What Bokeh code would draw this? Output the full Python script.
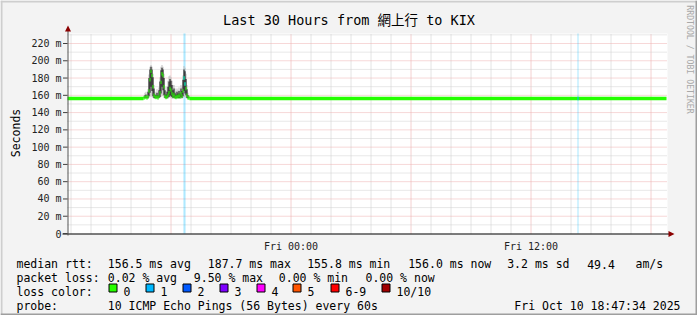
from math import ceil, floor, pi
from bokeh.plotting import figure
from bokeh.models import Range1d
from bokeh.core.properties import value
from bokeh.embed import file_html
from bokeh.resources import INLINE

# ---------------- data ----------------
# time axis: hours relative to Fri 00:00
window_start = -11.175
window_end = 18.825
data_end = 18.775
sample_h = 0.05            # 3-minute consolidated samples

baseline_rtt = 156.2       # ms, flat median outside the busy period
median_halfwidth = 2.0     # ms, half thickness of the median band

spike_start = -7.375       # Thu 16:37:30
spike_median = [157, 157.5, 158, 157, 158, 165, 178, 187.7, 183, 170,
                160, 158, 157.5, 158, 157, 159, 163, 175, 185, 183,
                170, 159, 157.5, 158, 160, 163, 168, 166, 162, 159,
                161, 158, 157.5, 159, 158, 160, 158, 162, 159, 165,
                180, 173, 168, 160, 157, 157]
spike_dark_lo = [156.5, 157, 157, 156.5, 157, 159, 163, 170, 165, 159,
                 157, 157, 156.5, 157, 156.5, 157, 158, 162, 170, 166,
                 160, 157, 156.5, 157, 157.5, 158, 160, 159, 158, 157,
                 157.5, 157, 156.5, 157, 157, 157, 157, 158, 157, 159,
                 165, 162, 160, 157, 156.5, 156.5]
spike_dark_hi = [158, 160, 161, 158, 164, 180, 190, 193, 190, 181,
                 168, 161, 160, 163, 160, 166, 176, 189, 192, 190,
                 180, 166, 161, 164, 170, 176, 179, 177, 172, 166,
                 168, 163, 161, 164, 162, 165, 162, 168, 165, 178,
                 190, 188, 179, 167, 160, 158]
spike_light_lo = [156, 156, 156, 156, 156, 157, 158, 160, 158, 157,
                  156, 156, 156, 156, 156, 156, 157, 158, 160, 159,
                  157, 156, 156, 156, 156, 157, 158, 157, 156, 156,
                  156, 156, 156, 156, 156, 156, 156, 156, 156, 157,
                  158, 158, 157, 156, 156, 156]
spike_light_hi = [160, 163, 164, 160, 167, 184, 193, 195, 193, 185,
                  172, 164, 163, 167, 163, 169, 181, 193, 195, 193,
                  185, 170, 165, 170, 177, 182, 183, 181, 177, 172,
                  172, 168, 165, 168, 166, 169, 166, 172, 170, 183,
                  194, 192, 185, 172, 163, 160]

loss_t = [-5.375, -5.325, 14.325]      # sample start times with packet loss
loss_n = [1, 1, 1]                      # pings lost out of 10

loss_labels = ["0", "1", "2", "3", "4", "5", "6-9", "10/10"]
loss_colors = ["#26ff00", "#00b8ff", "#0059ff", "#7e00ff", "#ff00ff",
               "#ff5500", "#ff0000", "#a10000"]

y_ticks = [0, 20, 40, 60, 80, 100, 120, 140, 160, 180, 200, 220]
y_tick_labels = ["0"] + [f"{v} m" for v in y_ticks[1:]]
x_ticks = [0, 12]
x_tick_labels = ["Fri 00:00", "Fri 12:00"]

title = "Last 30 Hours from 網上行 to KIX"
median_stats = ["156.5 ms avg", "187.7 ms max", "155.8 ms min",
                "156.0 ms now", "3.2 ms sd", "49.4", "am/s"]
loss_stats = ["0.02 % avg", "9.50 % max", "0.00 % min", "0.00 % now"]
probe_text = "10 ICMP Echo Pings (56 Bytes) every 60s"
stamp_text = "Fri Oct 10 18:47:34 2025"

# ---------------- layout ----------------
W, H = 697, 315
FL, FR, FT, FB = 67, 667, 33, 233          # plot area in page pixels
Y_TOP = 231.58                              # ms at top of plot area
PX_H = (FR - FL) / (window_end - window_start)   # px per hour
PX_MS = (FB - FT) / Y_TOP                        # px per ms
FONT = value("DejaVu Sans Mono, Noto Sans CJK TC")

# default ranges = page pixels (y down); extra ranges = data units
p = figure(width=W, height=H, output_backend="svg", toolbar_location=None,
           title=None, x_axis_location=None, y_axis_location=None,
           x_range=Range1d(0, W), y_range=Range1d(H, 0), min_border=0)
p.extra_x_ranges = {"time": Range1d(window_start - FL / PX_H,
                                    window_start + (W - FL) / PX_H)}
p.extra_y_ranges = {"ms": Range1d(-(H - FB) / PX_MS, FB / PX_MS)}
p.background_fill_color = "#f3f3f3"
p.border_fill_color = "#f3f3f3"
p.outline_line_color = None
p.grid.visible = False
D = dict(x_range_name="time", y_range_name="ms")

# 3D frame and canvas
p.quad(left=[0, 0, 0, W - 2], right=[W, 2, W, W], top=[0, 0, H - 2, 0],
       bottom=[2, H, H, H], fill_color=["#cecece", "#cecece", "#9e9e9e", "#9e9e9e"],
       line_color=None)
p.quad(left=[window_start], right=[window_end], bottom=[0], top=[Y_TOP],
       fill_color="#ffffff", line_color=None, **D)

# grid
hours = list(range(ceil(window_start), floor(window_end) + 1))
minor_h = [h for h in hours if h % 6]
major_h = [h for h in hours if h % 6 == 0]
levels = list(range(10, int(Y_TOP) + 1, 10))
minor_y = [v for v in levels if v % 20]
major_y = [v for v in levels if v % 20 == 0]
for xs, col in [(minor_h, "#c8c8c8"), (major_h, "#e8a0a0")]:
    p.segment(x0=xs, x1=xs, y0=0, y1=Y_TOP, line_color=col, line_dash="1 1",
              line_width=1, **D)
for ys, col in [(minor_y, "#d0d0d0"), (major_y, "#eeb0b0")]:
    p.segment(x0=window_start, x1=window_end, y0=ys, y1=ys, line_color=col,
              line_dash="1 1", line_width=1, **D)

# loss background stripes
p.quad(left=loss_t, right=[t + sample_h for t in loss_t],
       bottom=0, top=Y_TOP, fill_color=[loss_colors[k] for k in loss_n],
       fill_alpha=0.35, line_color=None, **D)

# smoke
n = len(spike_median)
s_left = [spike_start + i * sample_h for i in range(n)]
s_right = [t + sample_h for t in s_left]
p.quad(left=s_left, right=s_right, bottom=spike_light_lo, top=spike_light_hi,
       fill_color="#bdbdbd", line_color=None, **D)
p.quad(left=s_left, right=s_right, bottom=spike_dark_lo, top=spike_dark_hi,
       fill_color="#101010", line_color=None, **D)

# median band (colour = loss colour)
spike_end = s_right[-1]
m_left = [window_start] + s_left + [spike_end]
m_right = [spike_start] + s_right + [data_end]
m_val = [baseline_rtt] + spike_median + [baseline_rtt]
p.quad(left=m_left, right=m_right,
       bottom=[v - median_halfwidth for v in m_val],
       top=[v + median_halfwidth for v in m_val],
       fill_color=loss_colors[0], line_color=None, **D)
loss_med = []
for t in loss_t:
    i = round((t - spike_start) / sample_h)
    loss_med.append(spike_median[i] if 0 <= i < n else baseline_rtt)
p.quad(left=loss_t, right=[t + sample_h for t in loss_t],
       bottom=[v - median_halfwidth for v in loss_med],
       top=[v + median_halfwidth for v in loss_med],
       fill_color=[loss_colors[k] for k in loss_n], line_color=None, **D)

# axes
p.segment(x0=[62], x1=[671], y0=[FB + 0.5], y1=[FB + 0.5], line_color="#000000", line_width=1)
p.segment(x0=[FL + 0.5], x1=[FL + 0.5], y0=[28], y1=[FB + 2], line_color="#505050", line_width=1)
p.patches(xs=[[668, 674, 668], [64.5, 67.5, 70.5]], ys=[[230.5, 233.5, 236.5], [31, 25, 31]],
          fill_color="#8b0000", line_color=None)
p.segment(x0=62.5, x1=FL, y0=y_ticks, y1=y_ticks, line_color="#404040",
          y_range_name="ms")
p.text(x=61, y=y_ticks, text=y_tick_labels, text_font=FONT, text_font_size="10px",
       text_color="#222222", text_align="right", text_baseline="middle",
       y_range_name="ms")
p.text(x=x_ticks, y=246, text=x_tick_labels, text_font=FONT, text_font_size="10px",
       text_color="#222222", text_align="center", text_baseline="alphabetic",
       x_range_name="time")


def lab(text, cx, cy, size, color="#000000", align="left", baseline="alphabetic", angle=0.0):
    p.text(x=[cx], y=[cy], text=[text], text_font=FONT, text_font_size=f"{size}px",
           text_color=color, text_align=align, text_baseline=baseline, angle=angle)


# title and side texts
lab(title, W / 2, 19, 13.5, align="center")
lab("Seconds", 15.2, 132.5, 11.5, align="center", angle=pi / 2)
lab("RRDTOOL / TOBI OETIKER", 689.5, 59, 8.2, color="#a8a8a8", align="center",
    baseline="middle", angle=-pi / 2)

# legend
rows = [263.5, 277.3, 291.2, 305.0]
FS = 11.5
lab("median rtt:", 16, rows[0], FS)
for txt, cx in zip(median_stats, [107.3, 207.3, 306.7, 407.7, 506.7, 586.7, 635.0]):
    lab(txt, cx, rows[0], FS)
lab("packet loss:", 16, rows[1], FS)
for txt, cx in zip(loss_stats, [107.3, 193.3, 278.3, 365.0]):
    lab(txt, cx, rows[1], FS)
lab("loss color:", 16, rows[2], FS)
sw_x = [108.5, 145.5, 182.5, 219.5, 256.5, 292.5, 330.5, 381.5]
p.quad(left=sw_x, right=[x + 8 for x in sw_x], top=283.5, bottom=291.5,
       fill_color=loss_colors, line_color="#000000", line_width=1)
for txt, sx in zip(loss_labels, sw_x):
    lab(txt, sx + 14.5, rows[2], FS)
lab("probe:", 16, rows[3], FS)
lab(probe_text, 107.3, rows[3], FS)
lab(stamp_text, 680, rows[3], FS, align="right")

open("out.html", "w").write(file_html(p, INLINE))
